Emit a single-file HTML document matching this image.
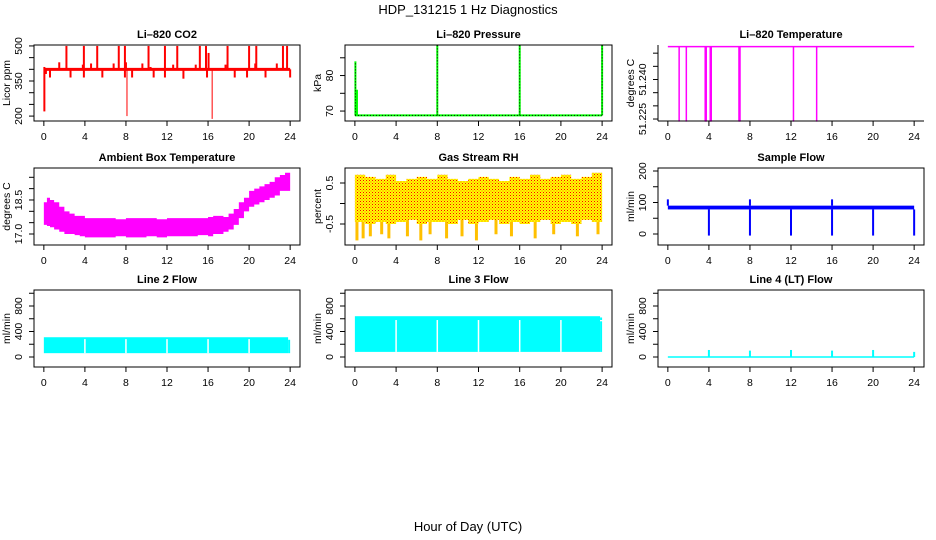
<!DOCTYPE html>
<html><head><meta charset="utf-8"><style>
html,body{margin:0;padding:0;background:#fff;}
svg{display:block;font-family:"Liberation Sans",sans-serif;}
</style></head><body>
<svg id="c" width="936" height="540" viewBox="0 0 936 540">
<defs>
<pattern id="rhpat" width="3" height="3" patternUnits="userSpaceOnUse">
<rect width="3" height="3" fill="#ffff00"/><rect x="0" y="0" width="1" height="1" fill="#ff0000"/><rect x="1.5" y="1.5" width="1" height="1" fill="#ff6000"/>
</pattern>
</defs>
<text x="468" y="14" text-anchor="middle" font-size="13">HDP_131215  1 Hz Diagnostics</text>
<text x="468" y="531" text-anchor="middle" font-size="13">Hour of Day (UTC)</text>
</svg>
<script>
// ---- data ----
const hourTicks=[0,4,8,12,16,20,24];
// CO2
const co2Base=400;
const co2SpikeHours=[2.2,3.9,5.2,7.3,7.9,10.2,11.8,13.0,15.2,15.8,16.05,17.9,20.0,20.7,23.3,23.7];
const co2SpikeVals=[500,500,500,500,500,500,500,500,500,500,470,500,500,500,500,500];
const co2BumpHours=[1.5,3.8,4.6,6.8,9.6,10.4,12.6,14.8,17.7,20.6,22.7,8.0];
const co2BumpVals=[430,420,425,425,425,410,420,420,420,425,425,430];
const co2DipHours=[0.2,0.6,2.6,3.9,5.7,7.9,8.1,8.6,10.7,11.8,13.6,15.9,16.4,18.6,19.8,21.6,24.0];
const co2DipVals=[380,365,365,365,365,365,200,365,365,365,360,365,188,365,365,365,365];
const co2StartDip=220;
// pressure
const presBase=68.8;
const presSpikeHours=[0.05,8,16,24];
const presSpikeVals=[84,88.5,88.5,88.5];
// Li-820 temperature
const tempBase=51.2525;
const tempDipHours=[1.1,1.8,3.64,3.74,4.13,4.23,6.93,7.03,12.24,14.5];
const tempDipVals=[51.224,51.224,51.224,51.224,51.224,51.224,51.224,51.224,51.224,51.224];
// ambient box temperature
const ambHours=[0,0.3,0.6,1,1.5,2,2.5,3,3.5,4,5,6,7,8,9,10,11,12,13,14,15,16,16.5,17,17.5,18,18.5,19,19.5,20,20.5,21,21.5,22,22.5,23,23.5,24];
const ambHigh=[18.4,18.6,18.5,18.4,18.2,18.0,17.9,17.8,17.8,17.7,17.7,17.7,17.65,17.7,17.7,17.7,17.65,17.7,17.7,17.7,17.7,17.75,17.8,17.8,17.75,17.9,18.1,18.4,18.6,18.9,19.0,19.1,19.2,19.3,19.5,19.6,19.7,19.6];
const ambLow=[17.5,17.4,17.35,17.3,17.2,17.1,17.0,17.0,16.95,16.9,16.85,16.85,16.85,16.9,16.85,16.85,16.9,16.85,16.9,16.9,16.9,16.95,16.9,17.0,17.0,17.1,17.2,17.4,17.7,18.0,18.2,18.3,18.4,18.5,18.6,18.7,18.9,18.9];
// RH
const rhHours=[0,1,2,3,4,5,6,7,8,9,10,11,12,13,14,15,16,17,18,19,20,21,22,23,24];
const rhHigh=[0.7,0.65,0.6,0.7,0.55,0.6,0.65,0.6,0.7,0.6,0.55,0.6,0.65,0.6,0.55,0.65,0.6,0.7,0.6,0.65,0.7,0.6,0.65,0.75,0.65];
const rhLow=[-0.4,-0.45,-0.5,-0.45,-0.5,-0.45,-0.4,-0.5,-0.45,-0.45,-0.5,-0.4,-0.5,-0.45,-0.4,-0.5,-0.45,-0.5,-0.45,-0.4,-0.5,-0.45,-0.5,-0.4,-0.45];
const rhSpikeHours=[0.2,0.8,1.5,2.6,3.3,5.1,6.4,7.3,8.9,10.4,11.8,13.7,15.2,17.5,19.3,21.6,23.6];
const rhSpikeVals=[-0.9,-0.85,-0.8,-0.75,-0.85,-0.8,-0.9,-0.75,-0.85,-0.8,-0.9,-0.75,-0.8,-0.85,-0.75,-0.8,-0.75];
// sample flow
const sfHigh=90, sfLow=78;
const sfDropHours=[4,8,12,16,20,24];
const sfDropVals=[-5,-5,-5,-5,-5,-5];
const sfSpikeHours=[0,8,16];
const sfSpikeVals=[110,110,110];
// line flows
const l2High=310, l2Low=60, l2End=270;
const l3High=640, l3Low=80;
const gapHours=[4,8,12,16,20];
const l4Base=0;
const l4SpikeHours=[4,8,12,16,20,24];
const l4SpikeVals=[110,100,110,100,110,80];

// ---- layout ----
const NS="http://www.w3.org/2000/svg";
const svg=document.getElementById('c');
const colL=[34,345,658], colR=[300,612,924];
const rowT=[45,168,290], rowB=[121,245,367];
function el(tag,attrs,parent){const e=document.createElementNS(NS,tag);for(const k in attrs)e.setAttribute(k,attrs[k]);(parent||svg).appendChild(e);return e;}
function panel(c,r,ymin,ymax,yticks,ylabels,title,ylab,box,name){
  const L=colL[c],R=colR[c],T=rowT[r],B=rowB[r];
  const g=el('g',{});
  
  
  const x=h=>L+(h+0.96)/25.92*(R-L);
  const y=v=>B-(v-ymin)/(ymax-ymin)*(B-T);
  const plot=el('g',{},g);
  
  
  const ax=el('g',{stroke:'#000','stroke-width':1,fill:'none'},g);
  
  
  if(box){el('rect',{x:L,y:T,width:R-L,height:B-T},ax);}
  else{el('line',{x1:L,y1:T,x2:L,y2:B},ax);el('line',{x1:L,y1:B,x2:R,y2:B},ax);}
  hourTicks.forEach(h=>{
    el('line',{x1:x(h),y1:B,x2:x(h),y2:B+5},ax);
    const t=el('text',{x:x(h),y:B+19,'text-anchor':'middle','font-size':10.5},g);
    t.textContent=h;
    
    
  });
  yticks.forEach(v=>{el('line',{x1:L-5,y1:y(v),x2:L,y2:y(v)},ax);});
  ylabels.forEach(v=>{
    const t=el('text',{x:L-12,y:y(v),'text-anchor':'middle','font-size':10.5,transform:`rotate(-90 ${L-12} ${y(v)})`},g);
    t.textContent=v;
    
    
  });
  const yl=el('text',{x:L-24,y:(T+B)/2,'text-anchor':'middle','font-size':10.5,transform:`rotate(-90 ${L-24} ${(T+B)/2})`},g);
  yl.textContent=ylab;
  
  
  const tt=el('text',{x:(L+R)/2,y:T-7,'text-anchor':'middle','font-size':11,'font-weight':'bold'},g);
  tt.textContent=title;
  
  
  return {x,y,g:plot};
}
function vline(p,h,v0,v1,color,w){el('line',{x1:p.x(h),y1:p.y(v0),x2:p.x(h),y2:p.y(v1),stroke:color,'stroke-width':w},p.g);}
function band(p,hs,hi,lo,fill){
  const a=[];
  hs.forEach((h,i)=>{a.push(`${p.x(h)},${p.y(hi[i])}`);if(i<hs.length-1)a.push(`${p.x(hs[i+1])},${p.y(hi[i])}`);});
  for(let i=hs.length-1;i>=0;i--){a.push(`${p.x(hs[i])},${p.y(lo[i])}`);if(i>0)a.push(`${p.x(hs[i-1])},${p.y(lo[i])}`);}
  return el('polygon',{points:a.join(' '),fill:fill},p.g);
}

// CO2
let p=panel(0,0,179,504,[200,250,300,350,400,450,500],['200','350','500'],'Li\u2013820 CO2','Licor ppm',true,'co2');
el('line',{x1:p.x(0),y1:p.y(co2Base),x2:p.x(24),y2:p.y(co2Base),stroke:'#f00','stroke-width':3},p.g);
vline(p,0.05,co2Base+10,co2StartDip,'#f00',2);
co2SpikeHours.forEach((h,i)=>vline(p,h,co2Base,co2SpikeVals[i],'#f00',2));
co2BumpHours.forEach((h,i)=>vline(p,h,co2Base,co2BumpVals[i],'#f00',2));
co2DipHours.forEach((h,i)=>vline(p,h,co2Base,co2DipVals[i],'#f00',co2DipVals[i]<300?1:2));

// Pressure
p=panel(1,0,67.2,88.6,[70,75,80,85],['70','80'],'Li\u2013820 Pressure','kPa',true,'pressure');
el('line',{x1:p.x(0),y1:p.y(presBase),x2:p.x(24),y2:p.y(presBase),stroke:'#0f0','stroke-width':2},p.g);
el('line',{x1:p.x(0),y1:p.y(presBase),x2:p.x(24),y2:p.y(presBase),stroke:'#000','stroke-width':1,'stroke-dasharray':'1 2'},p.g);
presSpikeHours.forEach((h,i)=>{vline(p,h,presBase,presSpikeVals[i],'#0f0',2);
  el('line',{x1:p.x(h),y1:p.y(presBase),x2:p.x(h),y2:p.y(presSpikeVals[i]),stroke:'#000','stroke-width':1,'stroke-dasharray':'1 2'},p.g);});
vline(p,0.2,presBase,76,'#0f0',2);

// Li temp
p=panel(2,0,51.22425,51.2531,[51.225,51.23,51.235,51.24,51.245,51.25],['51.225','51.240'],'Li\u2013820 Temperature','degrees C',false,'li-temp');
el('line',{x1:p.x(0),y1:p.y(tempBase),x2:p.x(24),y2:p.y(tempBase),stroke:'#f0f','stroke-width':1.5},p.g);
tempDipHours.forEach((h,i)=>vline(p,h,tempBase,tempDipVals[i],'#f0f',1.5));

// Ambient
p=panel(0,1,16.515,19.91,[17,17.5,18,18.5,19,19.5],['17.0','18.5'],'Ambient Box Temperature','degrees C',true,'ambient');
band(p,ambHours,ambHigh,ambLow,'#f0f');

// RH
p=panel(1,1,-1.012,0.866,[-0.5,0,0.5],['-0.5','0.5'],'Gas Stream RH','percent',true,'rh');
rhSpikeHours.forEach((h,i)=>vline(p,h,0,rhSpikeVals[i],'#ffc000',3));
band(p,rhHours,rhHigh,rhLow,'url(#rhpat)');

// Sample flow
p=panel(2,1,-34.9,209.5,[0,50,100,150,200],['0','100','200'],'Sample Flow','ml/min',true,'sample-flow');
el('rect',{x:p.x(0),y:p.y(sfHigh),width:p.x(24)-p.x(0),height:p.y(sfLow)-p.y(sfHigh),fill:'#00f'},p.g);
sfDropHours.forEach((h,i)=>vline(p,h,sfLow,sfDropVals[i],'#00f',2));
sfSpikeHours.forEach((h,i)=>vline(p,h,sfHigh,sfSpikeVals[i],'#00f',2));

// Line flows
function flowPanel(c,title,name,hi,lo,end,gapTop){
  const q=panel(c,2,-157,1051,[0,200,400,600,800,1000],['0','400','800'],title,'ml/min',true,name);
  el('rect',{x:q.x(0),y:q.y(hi),width:q.x(23.8)-q.x(0),height:q.y(lo)-q.y(hi),fill:'#0ff'},q.g);
  if(end!==null) vline(q,23.9,lo,end,'#0ff',2);
  gapHours.forEach(h=>el('line',{x1:q.x(h),y1:q.y(gapTop),x2:q.x(h),y2:q.y(lo),stroke:'#fff','stroke-width':1.5},q.g));
  return q;
}
flowPanel(0,'Line 2 Flow','line2-flow',l2High,l2Low,l2End,l2High-30);
p=flowPanel(1,'Line 3 Flow','line3-flow',l3High,l3Low,560,l3High-60);
vline(p,23.9,l3High-60,l3High-20,'#0ff',2);

// Line 4
p=panel(2,2,-157,1051,[0,200,400,600,800,1000],['0','400','800'],'Line 4 (LT) Flow','ml/min',true,'line4-flow');
el('line',{x1:p.x(0),y1:p.y(l4Base),x2:p.x(24),y2:p.y(l4Base),stroke:'#0ff','stroke-width':1.5},p.g);
l4SpikeHours.forEach((h,i)=>vline(p,h,l4Base,l4SpikeVals[i],'#0ff',2));
</script>
</body></html>
